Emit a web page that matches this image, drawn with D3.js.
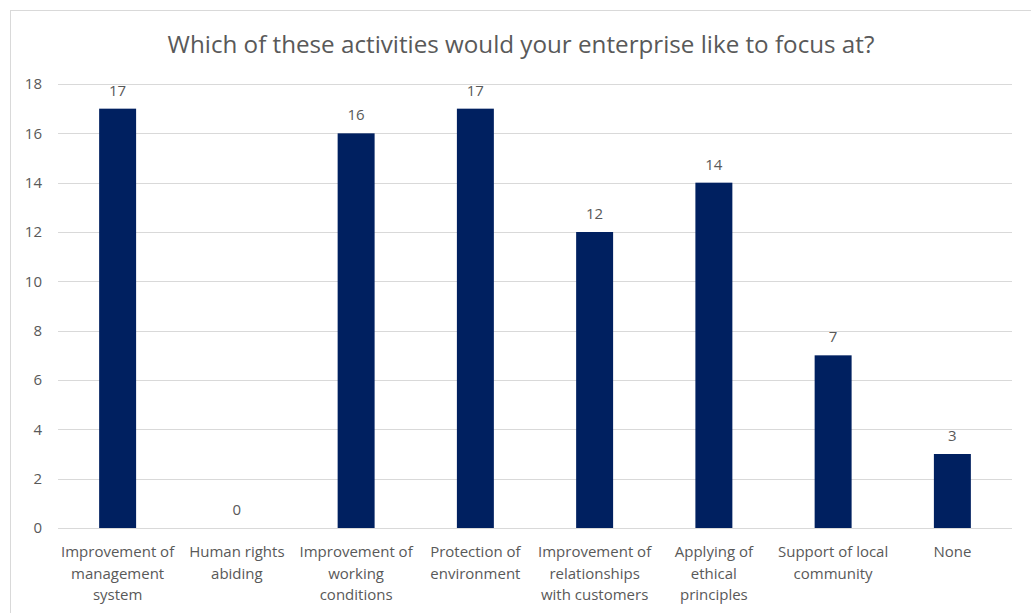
<!DOCTYPE html>
<html>
<head>
<meta charset="utf-8">
<script src="https://cdn.jsdelivr.net/npm/d3@7"></script>
<style>
  body { margin: 0; background: #fff; }
  text { font-family: "Open Sans", "Liberation Sans", Arial, sans-serif; fill: #595959; }
</style>
</head>
<body>
<svg id="chart"></svg>
<script>
const title = 'Which of these activities would your enterprise like to focus at?';
const categories = [
  'Improvement of\nmanagement\nsystem',
  'Human rights\nabiding',
  'Improvement of\nworking\nconditions',
  'Protection of\nenvironment',
  'Improvement of\nrelationships\nwith customers',
  'Applying of\nethical\nprinciples',
  'Support of local\ncommunity',
  'None'
];
const values = [17, 0, 16, 17, 12, 14, 7, 3];
const yTicks = [0, 2, 4, 6, 8, 10, 12, 14, 16, 18];

const width = 1031;
const height = 613;
const margin = { top: 84, right: 19, bottom: 85, left: 58 };
const font = '"Open Sans", "Liberation Sans", Arial, sans-serif';

const svg = d3.select('#chart')
  .attr('width', width)
  .attr('height', height);

// outer chart border
svg.append('rect')
  .attr('x', 10.5)
  .attr('y', 10.5)
  .attr('width', width)
  .attr('height', height)
  .attr('fill', 'none')
  .attr('stroke', '#d9d9d9');

svg.append('text')
  .attr('x', 521)
  .attr('y', 53)
  .attr('text-anchor', 'middle')
  .style('font-size', '24.2px')
  .text(title);

const x = d3.scaleBand()
  .domain(categories)
  .range([margin.left, width - margin.right])
  .paddingInner(0.69)
  .paddingOuter(0.345);

const y = d3.scaleLinear()
  .domain([0, 18])
  .range([height - margin.bottom, margin.top]);

// gridlines
svg.append('g')
  .selectAll('line')
  .data(yTicks)
  .enter()
  .append('line')
  .attr('x1', margin.left)
  .attr('x2', width - margin.right)
  .attr('y1', (d) => Math.round(y(d)) + 0.5)
  .attr('y2', (d) => Math.round(y(d)) + 0.5)
  .attr('stroke', '#d9d9d9')
  .attr('stroke-width', 1);

// y axis labels
const yAxis = svg.append('g')
  .attr('transform', `translate(${margin.left - 16},0)`)
  .call(d3.axisLeft(y).tickValues(yTicks).tickSize(0).tickPadding(0));
yAxis.select('.domain').remove();
yAxis.selectAll('text')
  .style('font-size', '15px')
  .style('font-family', font)
  .attr('fill', '#595959');

// bars
svg.append('g')
  .selectAll('rect')
  .data(values)
  .enter()
  .append('rect')
  .attr('x', (d, i) => x(categories[i]))
  .attr('y', (d) => y(d))
  .attr('width', x.bandwidth())
  .attr('height', (d) => y(0) - y(d))
  .attr('fill', '#002060');

// value labels
svg.append('g')
  .selectAll('text')
  .data(values)
  .enter()
  .append('text')
  .attr('x', (d, i) => x(categories[i]) + x.bandwidth() / 2)
  .attr('y', (d) => y(d) - 13)
  .attr('text-anchor', 'middle')
  .style('font-size', '15px')
  .text((d) => d);

// category labels
const catG = svg.append('g');
categories.forEach((c, i) => {
  const t = catG.append('text')
    .attr('x', x(c) + x.bandwidth() / 2)
    .attr('y', y(0) + 29)
    .attr('text-anchor', 'middle')
    .style('font-size', '15px');
  c.split('\n').forEach((line, j) => {
    t.append('tspan')
      .attr('x', x(c) + x.bandwidth() / 2)
      .attr('dy', j === 0 ? 0 : 21.5)
      .text(line);
  });
});
</script>
</body>
</html>
